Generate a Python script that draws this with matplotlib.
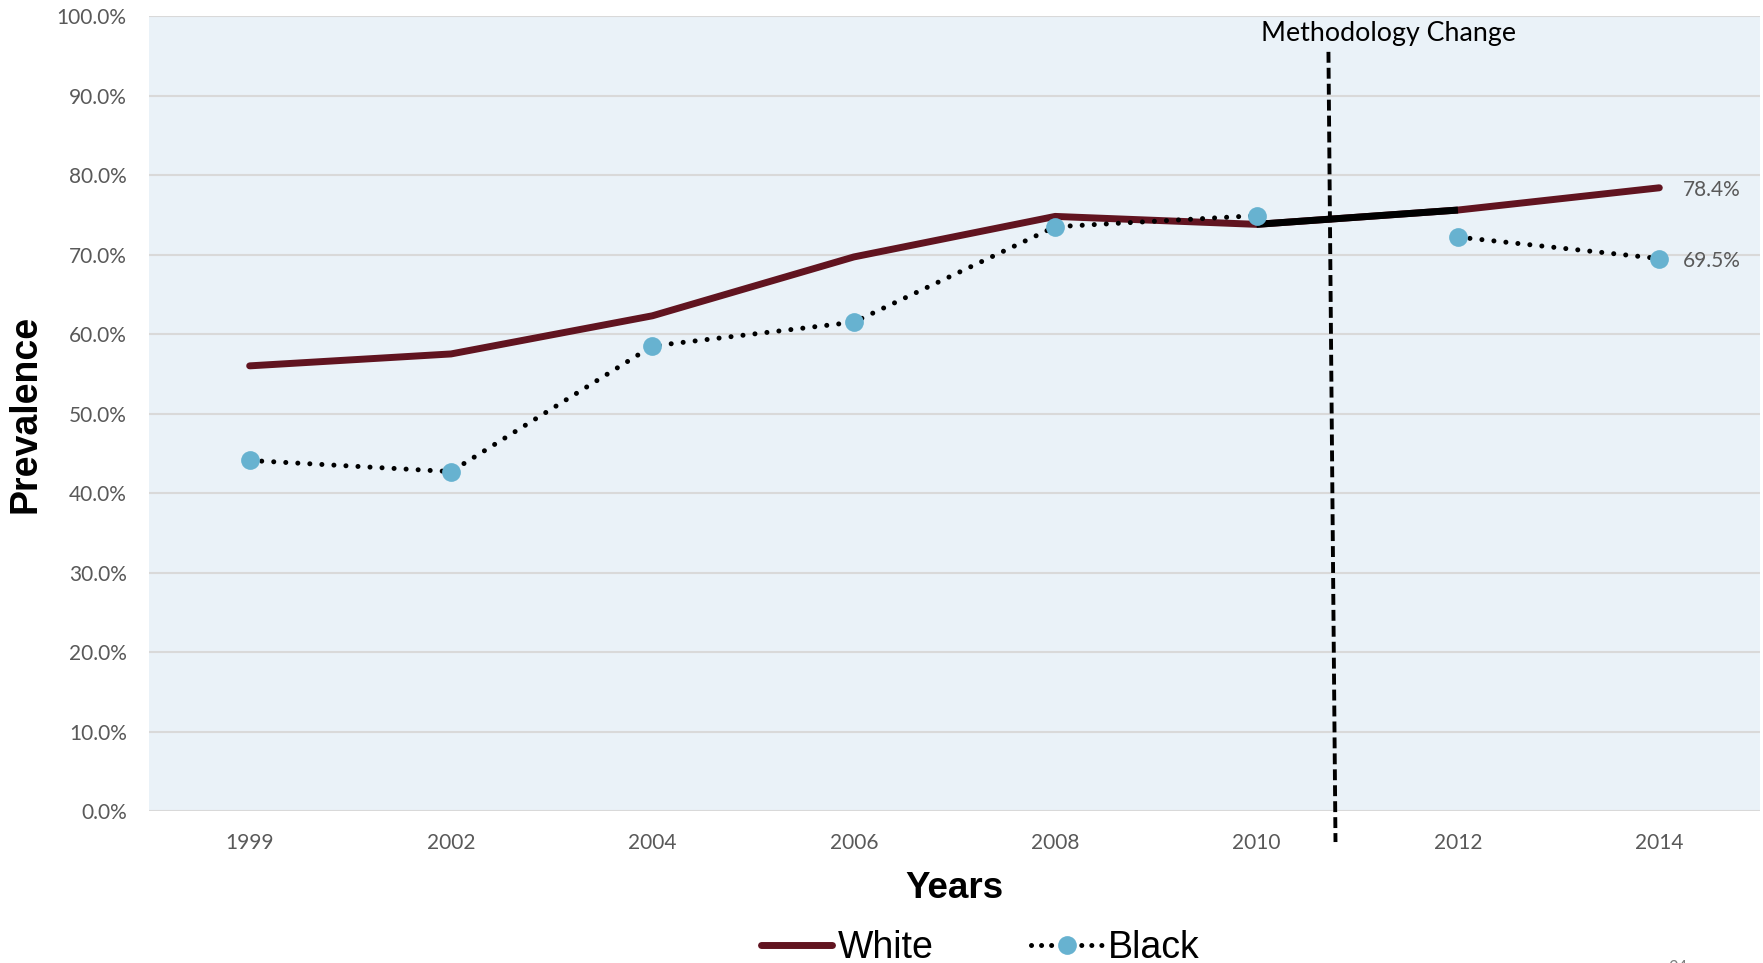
import matplotlib
matplotlib.use("Agg")
import matplotlib.pyplot as plt
from matplotlib.lines import Line2D
import numpy as np

# Survey years and prevalence (%) by group
years = ["1999", "2002", "2004", "2006", "2008", "2010", "2012", "2014"]
white = [56.0, 57.5, 62.3, 69.7, 74.8, 73.8, 75.6, 78.4]
black = [44.1, 42.7, 58.5, 61.5, 73.5, 74.9, 72.2, 69.5]
y_ticks = [0, 10, 20, 30, 40, 50, 60, 70, 80, 90, 100]
y_tick_labels = [f"{v:.1f}%" for v in y_ticks]

MAROON = "#611420"
DOT_BLUE = "#67B2D0"
BG = "#EAF2F8"
GRID = "#D9D9D9"
TICK_GRAY = "#595959"
BODY_FONT = "Lato"

fig = plt.figure(figsize=(17.63, 9.63), dpi=100)
ax = fig.add_axes([0.0845, 0.1578, 0.9138, 0.8255])
ax.set_facecolor(BG)

x = np.arange(len(years))

# White: solid maroon line, with the segment spanning the methodology change in black
ax.plot(x, white, color=MAROON, lw=5, solid_capstyle="round", zorder=3)
ax.plot(x[5:7], white[5:7], color="black", lw=5, solid_capstyle="butt", zorder=3.1)

# Black: dotted line, broken across the methodology change, with round markers
dotted = (0, (0.01, 2.4))
ax.plot(x[:6], black[:6], color="black", lw=3.6, linestyle=dotted,
        dash_capstyle="round", zorder=4)
ax.plot(x[6:], black[6:], color="black", lw=3.6, linestyle=dotted,
        dash_capstyle="round", zorder=4)
ax.plot(x, black, linestyle="none", marker="o", ms=13.5, color=DOT_BLUE,
        markeredgewidth=0, zorder=5)

# End-of-series value labels
for series in (white, black):
    ax.annotate(f"{series[-1]:.1f}%", xy=(x[-1], series[-1]),
                xytext=(17, -1.5), textcoords="offset points",
                va="center", ha="left", fontsize=15, color=TICK_GRAY,
                family=BODY_FONT)

# Methodology change marker
ax.plot([5.357, 5.392], [95.5, -3.9], color="black", lw=2.8,
        linestyle=(0, (2.8, 1.3)), clip_on=False, zorder=6)
ax.text(5.655, 97.8, "Methodology Change", ha="center", va="center",
        fontsize=19.3, color="black", family=BODY_FONT)

ax.set_xlim(-0.5, len(years) - 0.5)
ax.set_ylim(0, 100)
ax.set_xticks(x)
ax.set_xticklabels(years)
ax.set_yticks(y_ticks)
ax.set_yticklabels(y_tick_labels)
ax.tick_params(axis="both", length=0, labelsize=15, labelcolor=TICK_GRAY)
ax.tick_params(axis="y", pad=16)
ax.tick_params(axis="x", pad=16)
for lab in ax.get_xticklabels() + ax.get_yticklabels():
    lab.set_family(BODY_FONT)

ax.grid(axis="y", color=GRID, lw=1.5, zorder=0)
ax.grid(axis="x", visible=False)
ax.set_axisbelow(True)
for s in ax.spines.values():
    s.set_visible(False)

ax.set_ylabel("Prevalence", fontsize=27, fontweight="bold",
              family="Liberation Sans", color="black")
ax.set_xlabel("Years", fontsize=26.5, fontweight="bold",
              family="Liberation Sans", color="black", labelpad=13)
ax.yaxis.set_label_coords(-0.0655, 0.5)

handles = [
    Line2D([], [], color=MAROON, lw=5, solid_capstyle="round"),
    Line2D([], [], color="black", lw=3.6, linestyle=(0, (0.01, 2.0)),
           dash_capstyle="round", marker="o", ms=13.5,
           markerfacecolor=DOT_BLUE, markeredgewidth=0),
]
fig.legend(handles, ["White", "Black"], loc="center",
           bbox_to_anchor=(980 / 1763, 1 - 948 / 963), ncol=2, frameon=False,
           prop={"family": "Liberation Sans", "size": 27},
           handlelength=1.9, handletextpad=0.15, columnspacing=2.6,
           numpoints=1, borderaxespad=0, borderpad=0)

# Page number, running off the bottom edge of the slide
fig.text(1668 / 1763, 1 - 959.5 / 963, "24", ha="left", va="top",
         fontsize=12, color="#7F7F7F", family=BODY_FONT)

fig.savefig("out.png", dpi=100)
